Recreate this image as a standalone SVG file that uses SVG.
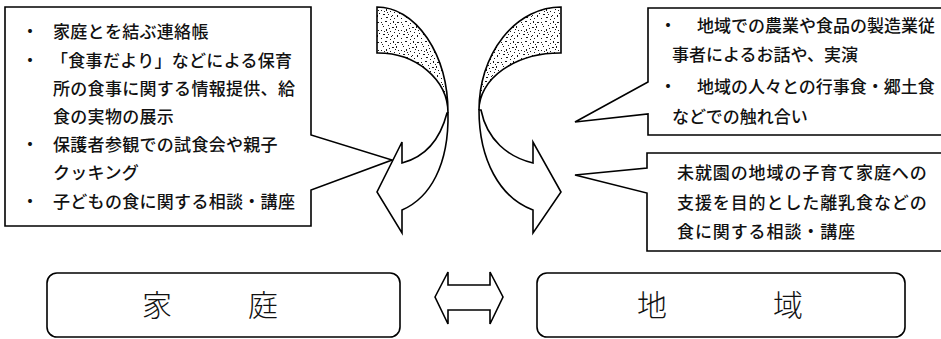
<svg xmlns="http://www.w3.org/2000/svg" width="941" height="339" viewBox="0 0 941 339">
<style>
.ln{fill:none;stroke:#000;stroke-width:1.6;stroke-linejoin:miter}
.box{fill:#fff;stroke:#000;stroke-width:1.6;stroke-linejoin:miter}
.t{font-family:"Noto Sans CJK JP","Noto Sans CJK SC",sans-serif;font-size:17px;fill:#111;font-weight:500}
.tl{letter-spacing:0.3px}
.tr2{letter-spacing:0.9px}
.b{text-anchor:middle}
.big{font-family:"Noto Sans CJK JP","Noto Sans CJK SC",sans-serif;font-size:30px;fill:#111;text-anchor:middle;font-weight:300}
</style>
<defs>
<pattern id="stip" width="20" height="20" patternUnits="userSpaceOnUse">
<rect width="20" height="20" fill="#fff"/>
<path d="M1,2h1v1h-1z M5,1h2v1h-2z M10,3h1v1h-1z M13,1h1v2h-1z M17,2h2v1h-2z M3,6h1v1h-1z M8,5h1v1h-1z M12,7h2v1h-2z M16,6h1v2h-1z M1,10h1v1h-1z M6,9h1v2h-1z M10,11h1v1h-1z M14,12h1v1h-1z M18,10h1v1h-1z M3,14h2v1h-2z M8,14h1v1h-1z M12,15h1v1h-1z M15,4h1v1h-1z M4,11h1v1h-1z M17,15h1v2h-1z M1,18h1v1h-1z M6,17h2v1h-2z M10,19h1v1h-1z M14,18h1v1h-1z M9,8h1v1h-1z M19,13h1v1h-1z M2,4h1v1h-1z M11,16h1v1h-1z M7,12h1v1h-1z M15,9h1v1h-1z" fill="#1a1a1a"/>
</pattern>
</defs>

<g id="callout-home">
<path class="box" d="M5,7 H311 V135 L392,160 L311,190 V226 H5 Z"/>
<text class="t b" x="30" y="38">・</text>
<text class="t tl" x="53" y="38">家庭とを結ぶ連絡帳</text>
<text class="t b" x="30" y="66.5">・</text>
<text class="t tl" x="51" y="66.5">「食事だより」などによる保育</text>
<text class="t tl" x="53" y="94.5">所の食事に関する情報提供、給</text>
<text class="t tl" x="53" y="123">食の実物の展示</text>
<text class="t b" x="30" y="151">・</text>
<text class="t tl" x="53" y="151">保護者参観での試食会や親子</text>
<text class="t tl" x="53" y="179">クッキング</text>
<text class="t b" x="30" y="207.5">・</text>
<text class="t tl" x="53" y="207.5">子どもの食に関する相談・講座</text>
</g>

<g id="callout-community">
<path class="box" d="M648,114 V135 H946 V8 H648 V82 L575,122 Z"/>
<text class="t b" x="668" y="32">・</text>
<text class="t" x="697" y="32">地域での農業や食品の製造業従</text>
<text class="t" x="672" y="61">事者によるお話や、実演</text>
<text class="t b" x="668" y="93">・</text>
<text class="t" x="697" y="93">地域の人々との行事食・郷土食</text>
<text class="t" x="672" y="123">などでの触れ合い</text>
</g>

<g id="callout-support">
<path class="box" d="M647,153 H946 V251 H647 V193 L575,175 L647,168 Z"/>
<text class="t tr2" x="677" y="179">未就園の地域の子育て家庭への</text>
<text class="t tr2" x="677" y="209">支援を目的とした離乳食などの</text>
<text class="t tr2" x="677" y="238">食に関する相談・講座</text>
</g>

<g id="home">
<rect class="box" x="47" y="273" width="353" height="64" rx="10"/>
<text class="big" x="157" y="316">家</text>
<text class="big" x="263" y="316">庭</text>
</g>

<g id="community">
<rect class="box" x="537" y="273" width="368" height="64" rx="10"/>
<text class="big" x="652" y="316">地</text>
<text class="big" x="788" y="316">域</text>
</g>

<g id="connectors">
<g id="curved-arrow-left">
<path d="M377,7 A71,106 0 0 1 448,113 A70,60 0 0 0 377,53 Z" fill="url(#stip)" stroke="#000" stroke-width="1.6"/>
<path class="box" d="M448,113 C449,165 430,198 402,210 L402,233 L377,192 L402,142 L402,163 C425,157 440,140 447,113 Z"/>
</g>
<g id="curved-arrow-right">
<path d="M561,7 A82,103 0 0 0 479,110 A81,57 0 0 1 561,53 Z" fill="url(#stip)" stroke="#000" stroke-width="1.6"/>
<path class="box" d="M479,110 C479,160 500,198 533,210 L533,233 L561,192 L533,142 L533,163 C508,157 487,140 481,110 Z"/>
</g>
<path id="double-arrow" class="box" d="M435,297 L448,272 V285 H490 V272 L503,297 L490,324 V310 H448 V324 Z"/>
</g>
</svg>
